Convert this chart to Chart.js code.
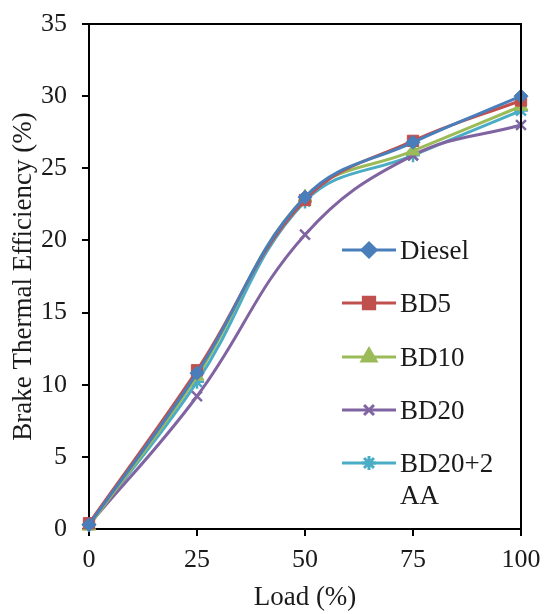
<!DOCTYPE html>
<html>
<head>
<meta charset="utf-8">
<script src="https://cdn.jsdelivr.net/npm/chart.js@4"></script>
<style>
  html, body { margin: 0; padding: 0; background: #fff; }
  #wrap { width: 545px; height: 614px; }
</style>
</head>
<body>
<div id="wrap"><canvas id="btChart" width="545" height="614"></canvas></div>
<script>
// load (%) and brake thermal efficiency (%)
const loads = [0, 25, 50, 75, 100];
const diesel = [0.3, 10.8, 23.0, 26.8, 30.0];
const bd5 = [0.4, 11.0, 22.8, 26.9, 29.7];
const bd10 = [0.2, 10.6, 23.0, 26.2, 29.3];
const bd20 = [0.3, 9.2, 20.4, 25.9, 28.0];
const bd20aa = [0.3, 10.2, 22.7, 25.9, 29.0];
const seriesNames = ["Diesel", "BD5", "BD10", "BD20", "BD20+2 AA"];
const yTicks = [0, 5, 10, 15, 20, 25, 30, 35];

const FONT = "'Liberation Serif', 'Times New Roman', serif";

function makeSet(label, values, color, style, radius) {
    return {
        label: label,
        data: loads.map((x, i) => ({ x: x, y: values[i] })),
        borderColor: color,
        backgroundColor: color,
        borderWidth: 3,
        pointStyle: style,
        pointRadius: radius,
        pointBorderWidth: style === "crossRot" || style === "star" ? 2.5 : 1,
        pointBorderColor: color,
        tension: 0.4,
        clip: false
    };
}

// box round the plot area plus a legend drawn inside it
const framePlugin = {
    id: "frame",
    afterDraw(chart) {
        const ctx = chart.ctx;
        const a = chart.chartArea;
        ctx.save();
        ctx.strokeStyle = "#000";
        ctx.lineWidth = 2;
        ctx.beginPath();
        ctx.moveTo(a.left, a.top);
        ctx.lineTo(a.right, a.top);
        ctx.lineTo(a.right, a.bottom);
        ctx.stroke();

        const rows = [250, 303, 357, 410, 463];
        ctx.font = "27px " + FONT;
        ctx.textBaseline = "middle";
        chart.data.datasets.forEach((ds, i) => {
            const y = rows[i];
            ctx.strokeStyle = ds.borderColor;
            ctx.lineWidth = 3;
            ctx.beginPath();
            ctx.moveTo(342, y);
            ctx.lineTo(396, y);
            ctx.stroke();
            ctx.fillStyle = ds.backgroundColor;
            Chart.helpers.drawPoint(ctx, {
                pointStyle: ds.pointStyle,
                radius: ds.pointRadius,
                borderWidth: ds.pointBorderWidth,
                rotation: 0
            }, 369, y);
            ctx.fillStyle = "#1a1a1a";
            const parts = ds.label === "BD20+2 AA" ? ["BD20+2", "AA"] : [ds.label];
            parts.forEach((p, k) => ctx.fillText(p, 400, y + 2 + k * 32));
        });
        ctx.restore();
    }
};

document.addEventListener("DOMContentLoaded", () => {
    const ctx = document.getElementById("btChart").getContext("2d");
    new Chart(ctx, {
        type: "line",
        data: {
            datasets: [
                makeSet(seriesNames[0], diesel, "#4a7ebb", "rectRot", 7),
                makeSet(seriesNames[1], bd5, "#c0504d", "rect", 8),
                makeSet(seriesNames[2], bd10, "#9bbb59", "triangle", 8),
                makeSet(seriesNames[3], bd20, "#8064a2", "crossRot", 7),
                makeSet(seriesNames[4], bd20aa, "#4bacc6", "star", 7)
            ]
        },
        options: {
            responsive: false,
            animation: false,
            layout: { padding: { top: 24, right: 24, left: 0, bottom: 0 } },
            plugins: {
                legend: { display: false },
                tooltip: { enabled: false }
            },
            scales: {
                x: {
                    type: "linear",
                    min: 0,
                    max: 100,
                    afterBuildTicks: axis => { axis.ticks = loads.map(v => ({ value: v })); },
                    grid: { drawOnChartArea: false, drawTicks: true, tickLength: 7, color: "#000", lineWidth: 2 },
                    border: { color: "#000", width: 2 },
                    ticks: { color: "#1a1a1a", font: { family: FONT, size: 26 }, padding: 9, maxRotation: 0 },
                    title: { display: true, text: "Load (%)", color: "#1a1a1a", font: { family: FONT, size: 27 }, padding: { top: 0, bottom: 0 } },
                    afterFit: axis => { axis.height = 85; axis.paddingLeft = 0; axis.paddingRight = 0; }
                },
                y: {
                    min: 0,
                    max: 35,
                    afterBuildTicks: axis => { axis.ticks = yTicks.map(v => ({ value: v })); },
                    grid: { drawOnChartArea: false, drawTicks: true, tickLength: 7, color: "#000", lineWidth: 2 },
                    border: { color: "#000", width: 2 },
                    ticks: { color: "#1a1a1a", font: { family: FONT, size: 26 }, padding: 15 },
                    title: { display: true, text: "Brake Thermal Efficiency (%)", color: "#1a1a1a", font: { family: FONT, size: 27 }, padding: { top: 8, bottom: 0 } },
                    afterFit: axis => { axis.width = 89; axis.paddingTop = 0; axis.paddingBottom = 0; }
                }
            }
        },
        plugins: [framePlugin]
    });
});
</script>
</body>
</html>
